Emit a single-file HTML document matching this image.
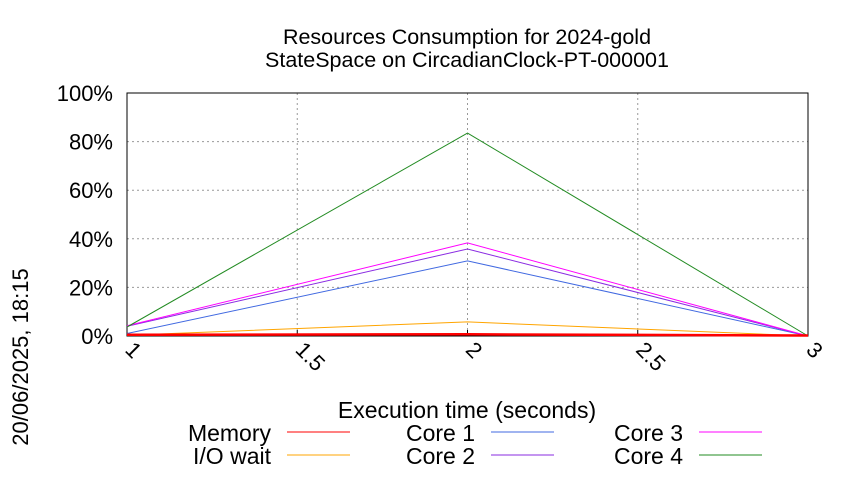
<!DOCTYPE html>
<html><head><meta charset="utf-8"><style>
body{margin:0;background:#fff}
text{font-family:"Liberation Sans",sans-serif;fill:#000}
</style></head><body>
<svg id="chart" width="850" height="475" xmlns="http://www.w3.org/2000/svg">
<rect width="850" height="475" fill="#fff"/>
<text x="467" y="44" font-size="21.5" text-anchor="middle">Resources Consumption for 2024-gold</text>
<text x="467" y="67" font-size="21.5" text-anchor="middle">StateSpace on CircadianClock-PT-000001</text>
<text transform="translate(28,357) rotate(-90)" font-size="22" text-anchor="middle">20/06/2025, 18:15</text>
<text x="467" y="418" font-size="23" text-anchor="middle">Execution time (seconds)</text>
<g id="grid"></g><g id="axes"></g><g id="series"></g><g id="legend"></g>
</svg>
<script>
const xTicks=[1,1.5,2,2.5,3];
const xTickLabels=["1","1.5","2","2.5","3"];
const yTicks=[0,20,40,60,80,100];
const yTickLabels=["0%","20%","40%","60%","80%","100%"];
const times=[1,2,3];
const memory=[0.5,0.7,0.2];
const ioWait=[0.3,5.8,0];
const core1=[1,30.9,0];
const core2=[4,35.8,0];
const core3=[4.2,38.3,0];
const core4=[3.7,83.5,0];
const seriesNames=["Memory","I/O wait","Core 1","Core 2","Core 3","Core 4"];
const seriesColors=["#ff0000","#ffa500","#4169e1","#8a2be2","#ff00ff","#228b22"];
const seriesData=[memory,ioWait,core1,core2,core3,core4];
const NS="http://www.w3.org/2000/svg";
const X0=127,X1=808,Y0=336,Y1=93;
const xs=v=>X0+(v-1)/2*(X1-X0);
const ys=v=>Y0-v/100*(Y0-Y1);
function mk(t,a,p){const e=document.createElementNS(NS,t);for(const k in a)e.setAttribute(k,a[k]);p.appendChild(e);return e;}
const grid=document.getElementById('grid'),axes=document.getElementById('axes'),ser=document.getElementById('series'),leg=document.getElementById('legend');
yTicks.forEach((v,i)=>{
 if(i>0&&i<yTicks.length-1){const g=mk('line',{x1:X0,x2:X1,y1:ys(v),y2:ys(v),stroke:'#999','stroke-dasharray':'2,3','stroke-width':1},grid);
 
 }
 const t=mk('text',{x:X0-14,y:ys(v)+8,'font-size':22,'text-anchor':'end'},axes);t.textContent=yTickLabels[i];
 
 
});
xTicks.forEach((v,i)=>{
 if(i>0&&i<xTicks.length-1){const g=mk('line',{x1:xs(v),x2:xs(v),y1:Y1,y2:Y0,stroke:'#999','stroke-dasharray':'2,3','stroke-width':1},grid);
 
 }
 mk('line',{x1:xs(v),x2:xs(v),y1:Y0,y2:Y0-6,stroke:'#000'},axes);
 const t=mk('text',{transform:`translate(${xs(v)-3},${Y0+15}) rotate(45)`,'font-size':22},axes);t.textContent=xTickLabels[i];
 
 
});
const fr=mk('rect',{x:X0,y:Y1,width:X1-X0,height:Y0-Y1,fill:'none',stroke:'#000','stroke-width':1},axes);


const order=[1,2,3,4,5,0];
order.forEach(i=>{
 const p=mk('polyline',{points:times.map((t,j)=>xs(t)+','+ys(seriesData[i][j])).join(' '),fill:'none',stroke:seriesColors[i],'stroke-width':i==0?2.5:1},ser);
 
 
});
const legPos=[[271,441],[271,464],[475,441],[475,464],[683,441],[683,464]];
seriesNames.forEach((n,i)=>{
 const [tx,ty]=legPos[i];
 const t=mk('text',{x:tx,y:ty,'font-size':23,'text-anchor':'end'},leg);t.textContent=n;
 
 
 const l=mk('line',{x1:tx+16,x2:tx+79,y1:ty-9,y2:ty-9,stroke:seriesColors[i],'stroke-width':1},leg);
 
 
});
</script>
</body></html>
